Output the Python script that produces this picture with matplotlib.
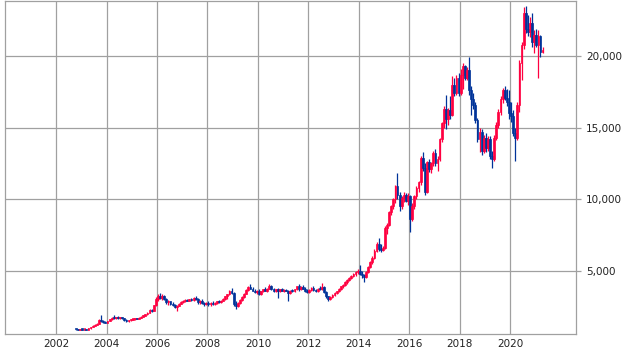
import numpy as np
import pandas as pd
import matplotlib
matplotlib.use('Agg')
import matplotlib.pyplot as plt
import matplotlib.dates as mdates
from matplotlib.ticker import FuncFormatter

# monthly candles, Oct 2002 .. Apr 2021
start = '2002-10-01'

opens = [
    920, 900, 880,                                                            # 2002
    920, 890, 910, 880, 980, 1080, 1150, 1230, 1300, 1550, 1480, 1420,         # 2003
    1370, 1500, 1620, 1720, 1680, 1740, 1700, 1750, 1680, 1560, 1480, 1540,    # 2004
    1590, 1620, 1660, 1640, 1720, 1800, 1870, 1950, 2080, 2280, 2200, 2580,    # 2005
    3050, 3200, 3100, 3250, 3000, 2800, 2850, 2680, 2600, 2450, 2550, 2700,    # 2006
    2800, 2900, 2950, 2900, 3000, 2950, 3100, 3000, 2800, 2900, 2750, 2650,    # 2007
    2700, 2650, 2750, 2680, 2750, 2850, 2800, 2900, 3050, 3200, 3350, 3550,    # 2008
    3450, 2700, 2500, 2750, 2950, 3150, 3400, 3650, 3850, 3750, 3600, 3500,    # 2009
    3550, 3400, 3550, 3700, 3600, 3750, 3950, 3700, 3600, 3700, 3600, 3700,    # 2010
    3600, 3650, 3600, 3450, 3600, 3550, 3700, 3900, 3700, 3850, 3750, 3550,    # 2011
    3500, 3650, 3800, 3650, 3550, 3750, 3700, 3850, 3500, 3200, 3000, 3150,    # 2012
    3300, 3450, 3550, 3750, 3900, 4000, 4200, 4350, 4500, 4650, 4750, 4900,    # 2013
    5000, 4800, 4700, 4550, 4900, 5250, 5600, 5900, 6400, 6900, 6500, 6450,    # 2014
    6600, 8000, 8200, 9100, 9500, 10000, 10900, 10300, 9500, 10100, 10300, 9900,        # 2015
    10200, 8600, 9500, 10200, 10800, 11200, 12900, 12200, 10500, 12600, 12100, 12500,   # 2016
    13200, 12500, 12800, 14200, 15300, 16300, 15600, 16200, 15900, 18000, 17400, 18500, # 2017
    17400, 18700, 19300, 18500, 19000, 17600, 17000, 16600, 15500, 14200, 14700, 13400, # 2018
    14300, 13600, 14200, 13000, 12800, 14300, 15200, 16100, 17000, 17600, 17100, 16800, # 2019
    16000, 15800, 14600, 14300, 16600, 19500, 20800, 23000, 21900, 21700, 22300, 21000, # 2020
    21500, 20800, 21400, 20300,                                                          # 2021
]
highs = [
    960, 940, 950,
    960, 930, 950, 1000, 1100, 1180, 1260, 1330, 1600, 1890, 1560, 1480,
    1520, 1650, 1760, 1900, 1780, 1820, 1780, 1800, 1720, 1600, 1560, 1620,
    1660, 1700, 1720, 1740, 1820, 1900, 1980, 2100, 2300, 2350, 2600, 3150,
    3400, 3450, 3350, 3300, 3100, 2950, 2900, 2800, 2700, 2600, 2750, 2850,
    2950, 3000, 3050, 3050, 3100, 3150, 3250, 3100, 2950, 3000, 2800, 2800,
    2850, 2800, 2850, 2800, 2900, 2950, 2950, 3100, 3250, 3400, 3650, 3800,
    3500, 2850, 2800, 3000, 3200, 3450, 3700, 3950, 4050, 3850, 3700, 3650,
    3700, 3600, 3750, 3850, 3800, 4050, 4000, 3800, 3750, 3800, 3750, 3800,
    3750, 3750, 3650, 3650, 3700, 3750, 3950, 4050, 3950, 4000, 3850, 3700,
    3700, 3850, 3900, 3750, 3800, 3900, 4150, 3900, 3550, 3250, 3200, 3350,
    3500, 3600, 3800, 3950, 4100, 4250, 4400, 4550, 4700, 4850, 5000, 5100,
    5400, 4950, 4800, 4950, 5300, 5700, 6000, 6500, 7000, 7300, 6900, 6700,
    8100, 8300, 9200, 9600, 10100, 11000, 11800, 10500, 10200, 10500, 10400, 10400,
    10300, 9700, 10300, 10900, 11300, 13000, 13300, 12500, 12700, 12800, 12600, 13400,
    13500, 13000, 14300, 15400, 16500, 17300, 16400, 17200, 18600, 18500, 18700, 18800,
    19100, 19500, 19400, 19200, 19900, 17900, 17400, 16800, 15700, 15000, 14900, 14500,
    14600, 14400, 14400, 13400, 14500, 15400, 16300, 17200, 17800, 17900, 17700, 17600,
    16800, 16200, 15000, 16800, 19700, 21000, 23400, 23500, 22900, 22700, 23000, 21800,
    21900, 21800, 21500, 20600,
]
lows = [
    880, 850, 860,
    870, 860, 850, 870, 960, 1050, 1120, 1200, 1280, 1450, 1380, 1330,
    1340, 1470, 1580, 1650, 1600, 1660, 1620, 1640, 1520, 1430, 1450, 1500,
    1540, 1580, 1600, 1610, 1690, 1770, 1840, 1920, 2050, 2120, 2180, 2550,
    2900, 3000, 2950, 2950, 2700, 2600, 2600, 2500, 2380, 2200, 2500, 2650,
    2750, 2800, 2850, 2850, 2900, 2900, 2950, 2700, 2700, 2700, 2550, 2600,
    2500, 2550, 2600, 2600, 2700, 2750, 2750, 2850, 2950, 3000, 3300, 3400,
    2500, 2350, 2450, 2700, 2900, 3100, 3350, 3600, 3700, 3550, 3450, 3400,
    3300, 3300, 3500, 3550, 3500, 3700, 3650, 3500, 3500, 3100, 3500, 3550,
    3500, 3550, 2900, 3400, 3500, 3500, 3650, 3600, 3650, 3700, 3500, 3450,
    3450, 3600, 3600, 3500, 3500, 3650, 3650, 3450, 3100, 2850, 2950, 3100,
    3250, 3350, 3500, 3650, 3800, 3900, 4100, 4250, 4400, 4550, 4650, 4750,
    4700, 4500, 4200, 4500, 4850, 5200, 5500, 5850, 6300, 6400, 6300, 6350,
    6550, 7600, 8100, 8900, 9300, 9700, 10000, 9200, 9300, 9800, 9800, 9600,
    7700, 8500, 9300, 10000, 10500, 11000, 12000, 10300, 10400, 11900, 11800, 12300,
    12300, 12000, 12700, 14000, 15000, 14900, 15200, 15600, 15800, 17200, 17300, 17200,
    17300, 17700, 18300, 18300, 17300, 15900, 16300, 15300, 14000, 13300, 13100, 13200,
    13300, 13400, 12800, 12200, 12700, 14100, 15000, 15900, 16700, 16900, 16500, 15600,
    15400, 14400, 12700, 14100, 16100, 18300, 20500, 21600, 21400, 21300, 20600, 20200,
    20600, 18500, 19900, 20200,
]
closes = [
    900, 880, 920,
    890, 910, 880, 980, 1080, 1150, 1230, 1300, 1550, 1480, 1420, 1370,
    1500, 1620, 1720, 1680, 1740, 1700, 1750, 1680, 1560, 1480, 1540, 1590,
    1620, 1660, 1640, 1720, 1800, 1870, 1950, 2080, 2280, 2200, 2580, 3050,
    3200, 3100, 3250, 3000, 2800, 2850, 2680, 2600, 2450, 2550, 2700, 2800,
    2900, 2950, 2900, 3000, 2950, 3100, 3000, 2800, 2900, 2750, 2650, 2700,
    2650, 2750, 2680, 2750, 2850, 2800, 2900, 3050, 3200, 3350, 3550, 3450,
    2700, 2500, 2750, 2950, 3150, 3400, 3650, 3850, 3750, 3600, 3500, 3550,
    3400, 3550, 3700, 3600, 3750, 3950, 3700, 3600, 3700, 3600, 3700, 3600,
    3650, 3600, 3450, 3600, 3550, 3700, 3900, 3700, 3850, 3750, 3550, 3500,
    3650, 3800, 3650, 3550, 3750, 3700, 3850, 3500, 3200, 3000, 3150, 3300,
    3450, 3550, 3750, 3900, 4000, 4200, 4350, 4500, 4650, 4750, 4900, 5000,
    4800, 4700, 4550, 4900, 5250, 5600, 5900, 6400, 6900, 6500, 6450, 6600,
    8000, 8200, 9100, 9500, 10000, 10900, 10300, 9500, 10100, 10300, 9900, 10200,
    8600, 9500, 10200, 10800, 11200, 12900, 12200, 10500, 12600, 12100, 12500, 13200,
    12500, 12800, 14200, 15300, 16300, 15600, 16200, 15900, 18000, 17400, 18500, 17400,
    18700, 19300, 18500, 19000, 17600, 17000, 16600, 15500, 14200, 14700, 13400, 14300,
    13600, 14200, 13000, 12800, 14300, 15200, 16100, 17000, 17600, 17100, 16800, 16000,
    15800, 14600, 14300, 16600, 19500, 20800, 23000, 21900, 21700, 22300, 21000, 21500,
    20800, 21400, 20300, 20400,
]

up_color = '#ff0040'
down_color = '#003399'
grid_color = '#a0a0a0'

o = np.array(opens, dtype=float)
h = np.array(highs, dtype=float)
l = np.array(lows, dtype=float)
c = np.array(closes, dtype=float)
dates = pd.date_range(start, periods=len(c), freq='MS') + pd.Timedelta(days=14)
x = mdates.date2num(dates)
cols = np.where(c >= o, up_color, down_color)

fig = plt.figure(figsize=(6.23, 3.51), dpi=100)
ax = fig.add_axes([0.0077, 0.0484, 0.9164, 0.9486])

ax.vlines(x, l, h, colors=cols, lw=0.9, zorder=3)
body = np.maximum(np.abs(c - o), 80)
ax.bar(x, body, bottom=np.minimum(o, c), width=26, color=cols,
       edgecolor=cols, linewidth=0.5, zorder=3)

ax.set_xlim(mdates.date2num(pd.Timestamp('1999-12-20')), mdates.date2num(pd.Timestamp('2022-08-08')))
ax.set_ylim(577, 23843)

years = list(range(2002, 2021, 2))
ax.set_xticks([mdates.date2num(pd.Timestamp(f'{y}-01-01')) for y in years])
ax.set_xticklabels([str(y) for y in years])
ax.set_yticks([5000, 10000, 15000, 20000])
ax.yaxis.set_major_formatter(FuncFormatter(lambda v, p: f'{v:,.0f}'))
ax.yaxis.tick_right()

ax.grid(True, color=grid_color, lw=0.9)
ax.set_axisbelow(True)
for s in ax.spines.values():
    s.set_color(grid_color)
    s.set_linewidth(0.9)
ax.tick_params(axis='y', length=3.8, width=0.9, color=grid_color, pad=3.5, labelsize=7.5, labelcolor='#222222')
ax.tick_params(axis='x', length=0, pad=3.5, labelsize=7.5, labelcolor='#222222')

fig.savefig('out.png', dpi=100)
